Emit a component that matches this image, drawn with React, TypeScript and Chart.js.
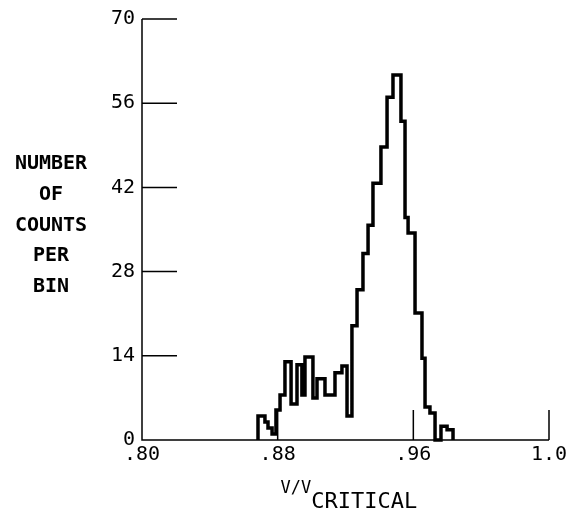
import React, { useEffect, useRef } from 'react';
import { Chart, registerables } from 'chart.js';

Chart.register(...registerables);

// Histogram outline: left edge of each step (V/Vcritical) and the count held over it
const binStarts = [
  0.8684, 0.8725, 0.8743, 0.8767, 0.879, 0.8814, 0.8843, 0.8879, 0.8914, 0.8943,
  0.8961, 0.9008, 0.9032, 0.9079, 0.9138, 0.9179, 0.9209, 0.9238, 0.9268, 0.9303,
  0.9333, 0.9362, 0.9409, 0.9445, 0.948, 0.9527, 0.9551, 0.9569, 0.961, 0.9651,
  0.9669, 0.9698, 0.9728, 0.9763, 0.9799,
];
const binCounts = [
  4, 3, 2, 1, 5, 7.5, 13, 6, 12.5, 7.5,
  13.8, 7, 10.2, 7.5, 11.2, 12.3, 4, 19, 25, 31,
  35.7, 42.7, 48.7, 57, 60.7, 53, 37, 34.4, 21.1, 13.6,
  5.5, 4.5, 0, 2.3, 1.7,
];
const binEnd = 0.9834;

const yTickValues = [0, 14, 28, 42, 56, 70];
const xTickValues = [0.8, 0.88, 0.96, 1.04];
const xTickLabels = ['.80', '.88', '.96', '1.0'];
const yTitleLines = ['NUMBER', 'OF', 'COUNTS', 'PER', 'BIN'];
const xTitleMain = 'V/V';
const xTitleSub = 'CRITICAL';

const MONO = '"DejaVu Sans Mono", "Liberation Mono", monospace';

export default function App() {
  const ref = useRef<HTMLCanvasElement>(null);

  useEffect(() => {
    if (!ref.current) return;
    const points = [
      { x: binStarts[0], y: 0 },
      ...binStarts.map((x, i) => ({ x, y: binCounts[i] })),
      { x: binEnd, y: 0 },
    ];

    const axesPlugin = {
      id: 'oldAxes',
      beforeDatasetsDraw(chart: any) {
        const ctx = chart.ctx as CanvasRenderingContext2D;
        const xs = chart.scales.x;
        const ys = chart.scales.y;
        const xL = xs.getPixelForValue(xTickValues[0]);
        const xR = xs.getPixelForValue(xTickValues[xTickValues.length - 1]);
        const yB = ys.getPixelForValue(yTickValues[0]);
        const yT = ys.getPixelForValue(yTickValues[yTickValues.length - 1]);
        ctx.save();
        ctx.strokeStyle = '#000';
        ctx.lineWidth = 1.5;
        ctx.beginPath();
        ctx.moveTo(xL, yT);
        ctx.lineTo(xL, yB);
        ctx.lineTo(xR, yB);
        yTickValues.forEach((v) => {
          const y = ys.getPixelForValue(v);
          ctx.moveTo(xL, y);
          ctx.lineTo(xL + 35, y);
        });
        xTickValues.slice(1).forEach((v) => {
          const x = xs.getPixelForValue(v);
          ctx.moveTo(x, yB);
          ctx.lineTo(x, yB - 30);
        });
        ctx.stroke();

        ctx.fillStyle = '#000';
        ctx.font = `20px ${MONO}`;
        ctx.textAlign = 'right';
        ctx.textBaseline = 'middle';
        yTickValues.forEach((v) => {
          ctx.fillText(String(v), xL - 7, ys.getPixelForValue(v));
        });
        ctx.textAlign = 'center';
        xTickValues.forEach((v, i) => {
          ctx.fillText(xTickLabels[i], xs.getPixelForValue(v), yB + 15);
        });

        ctx.font = `bold 20px ${MONO}`;
        yTitleLines.forEach((t, i) => {
          ctx.fillText(t, xL - 91, 164 + i * 30.7);
        });

        ctx.textAlign = 'left';
        ctx.font = `17px ${MONO}`;
        const mainW = ctx.measureText(xTitleMain).width;
        ctx.font = `22px ${MONO}`;
        const subW = ctx.measureText(xTitleSub).width;
        const cx = xs.getPixelForValue(0.922);
        const startX = cx - (mainW + subW) / 2;
        ctx.font = `17px ${MONO}`;
        ctx.fillText(xTitleMain, startX, yB + 49);
        ctx.font = `22px ${MONO}`;
        ctx.fillText(xTitleSub, startX + mainW, yB + 62);
        ctx.restore();
      },
    };

    const chart = new Chart(ref.current, {
      type: 'line',
      data: {
        datasets: [
          {
            data: points,
            stepped: 'before',
            borderColor: '#000',
            borderWidth: 3.5,
            borderJoinStyle: 'miter',
            pointRadius: 0,
            fill: false,
            clip: 10,
          } as any,
        ],
      },
      options: {
        animation: false,
        responsive: false,
        layout: { padding: { left: 142, top: 19, right: 20, bottom: 76 } },
        plugins: { legend: { display: false }, tooltip: { enabled: false } },
        scales: {
          x: { type: 'linear', min: 0.8, max: 1.04, display: false },
          y: { type: 'linear', min: 0, max: 70, display: false },
        },
      },
      plugins: [axesPlugin],
    });
    return () => chart.destroy();
  }, []);

  return (
    <div style={{ position: 'absolute', left: 0, top: 0, width: 569, height: 516, background: '#fff' }}>
      <canvas ref={ref} width={569} height={516} style={{ display: 'block' }} />
    </div>
  );
}
